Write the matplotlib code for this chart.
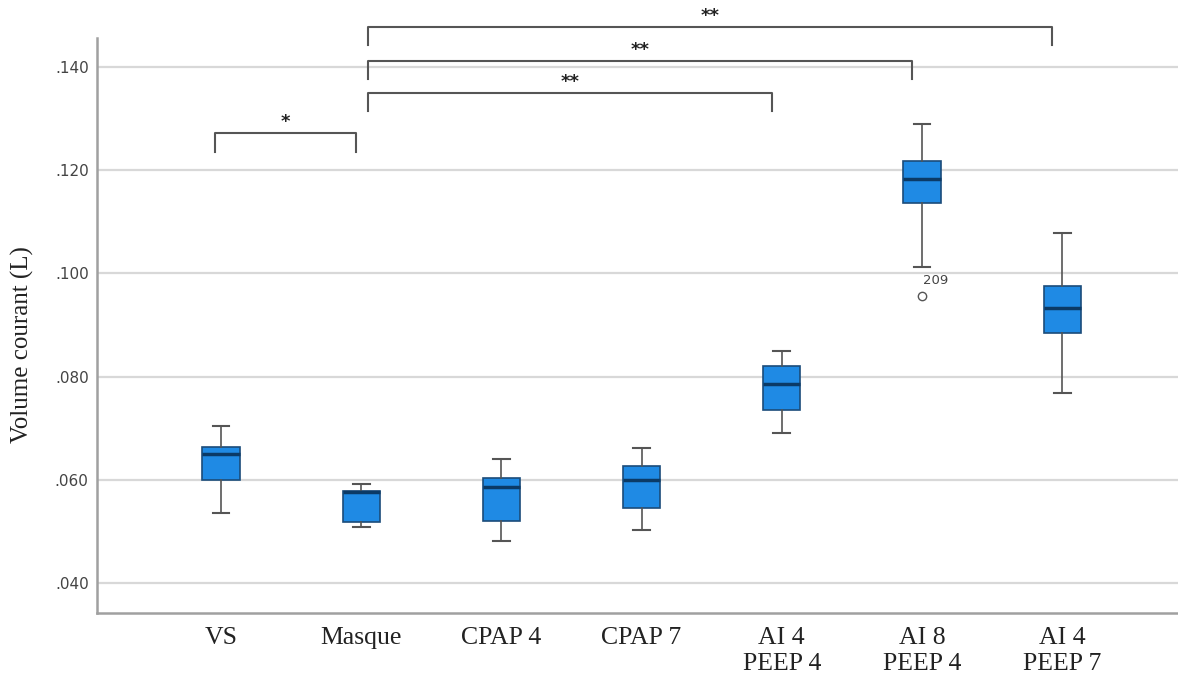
import numpy as np
import matplotlib
matplotlib.use('Agg')
import matplotlib.pyplot as plt

# box statistics (tidal volume, L)
groups = ['VS', 'Masque', 'CPAP 4', 'CPAP 7', 'AI 4\nPEEP 4', 'AI 8\nPEEP 4', 'AI 4\nPEEP 7']
whislo = [0.0536, 0.0508, 0.0481, 0.0503, 0.0690, 0.1013, 0.0769]
q1 = [0.0600, 0.0518, 0.0521, 0.0546, 0.0735, 0.1136, 0.0884]
med = [0.0651, 0.0576, 0.0587, 0.0600, 0.0785, 0.1183, 0.0932]
q3 = [0.0664, 0.0579, 0.0604, 0.0627, 0.0821, 0.1218, 0.0976]
whishi = [0.0705, 0.0591, 0.0640, 0.0661, 0.0850, 0.1290, 0.1079]
fliers = [[], [], [], [], [], [0.0956], []]
flier_ids = {5: '209'}

yticks = [0.040, 0.060, 0.080, 0.100, 0.120, 0.140]
ytick_labels = ['.040', '.060', '.080', '.100', '.120', '.140']

# significance brackets: (group a, group b, label, bracket height)
sig_pairs = [(0, 1, '*'), (1, 4, '**'), (1, 5, '**'), (1, 6, '**')]
sig_y = [0.1272, 0.1350, 0.1412, 0.1478]

fig = plt.figure(figsize=(11.78, 6.86), dpi=100)
ax = fig.add_axes([97 / 1178, 73 / 686, 1081 / 1178, 575 / 686])

stats = []
for i, g in enumerate(groups):
    stats.append(dict(label=g, whislo=whislo[i], q1=q1[i], med=med[i],
                      q3=q3[i], whishi=whishi[i], fliers=fliers[i]))

pos = np.arange(len(groups))
ax.bxp(stats, positions=pos, widths=0.265, patch_artist=True, showfliers=True,
       boxprops=dict(facecolor='#1f8ae4', edgecolor='#1b4c7a', linewidth=1.2),
       medianprops=dict(color='#0b3a66', linewidth=2.5),
       whiskerprops=dict(color='#555555', linewidth=1.2),
       capprops=dict(color='#555555', linewidth=1.5),
       capwidths=0.12,
       flierprops=dict(marker='o', markersize=6, markerfacecolor='white',
                       markeredgecolor='#555555', markeredgewidth=1.0),
       zorder=3)

for i, lab in flier_ids.items():
    ax.annotate(lab, (pos[i], fliers[i][0]), xytext=(1, 16), textcoords='offset pixels',
                ha='left', va='center', fontsize=9.5, color='#444444')

# brackets
drop = 0.0036
for (a, b, lab), y in zip(sig_pairs, sig_y):
    if lab == '*':
        x0, x1 = a - 0.04, b - 0.04
    else:
        x0, x1 = a + 0.05, b - 0.07
    ax.plot([x0, x0, x1, x1], [y - drop, y, y, y - drop], color='#555555',
            lw=1.5, clip_on=False, zorder=4)
    ax.text((x0 + x1) / 2, y + 0.0003, lab, ha='center', va='bottom',
            fontsize=13, fontweight='bold', color='#222222', clip_on=False)

ax.set_xlim(-0.884, 6.826)
ax.set_ylim(0.0342, 0.1456)
ax.set_xticks(pos)
ax.set_xticklabels(groups, fontfamily='Liberation Serif', fontsize=18.5,
                   color='#222222', linespacing=1.25)
ax.set_yticks(yticks)
ax.set_yticklabels(ytick_labels, fontsize=11, color='#444444')
ax.tick_params(axis='both', length=0)
ax.tick_params(axis='x', pad=10)
ax.tick_params(axis='y', pad=6)

ax.yaxis.grid(True, color='#d8d8d8', linewidth=1.6, zorder=0)
ax.set_axisbelow(True)
for s in ['top', 'right']:
    ax.spines[s].set_visible(False)
for s in ['left', 'bottom']:
    ax.spines[s].set_color('#a0a0a0')
    ax.spines[s].set_linewidth(1.8)

ax.set_ylabel('Volume courant (L)', fontfamily='Liberation Serif', fontsize=18,
              color='#222222')
ax.yaxis.set_label_coords(-0.058, 0.466)

fig.savefig('out.png', dpi=100)
